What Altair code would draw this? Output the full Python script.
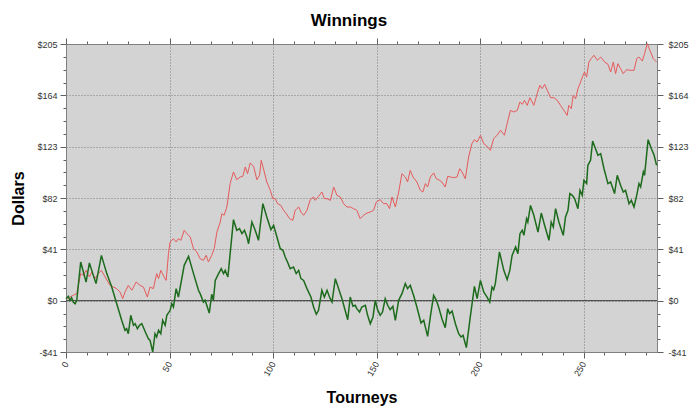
import altair as alt
import pandas as pd

# ---- data ----
red_x = [0, 1.9, 3.5, 5.2, 7.1, 8.4, 9.7, 11.3, 12.4, 14.0, 15.6, 17.1, 18.9, 21.3, 22.9, 24.5,
         26.1, 27.4, 28.5, 30.1, 31.8, 33.9, 35.8, 37.4, 39.3, 40.6, 42.2, 43.8, 44.7, 45.8, 47.4,
         48.4, 49.5, 50.3, 51.9, 53.2, 54.3, 55.5, 57.1, 58.4, 60.0, 61.6, 63.2,
         64.8, 66.4, 67.7, 68.8, 70.4, 71.6, 72.9, 74.5, 75.3, 76.4, 77.7, 79.3, 80.9, 82.5, 84.1,
         85.4, 86.6, 87.7, 89.0, 90.6, 92.2, 93.5, 94.3, 95.8, 97.0, 98.7, 99.9, 101.1, 102.2,
         103.8, 105.1, 106.4, 108.0, 109.6, 110.7, 112.4, 113.5, 114.8, 116.4, 118.0, 119.6,
         120.4, 122.0, 123.6, 124.8, 126.1, 127.7, 129.3, 130.9, 132.5, 134.1, 135.7,
         137.3, 138.9, 140.5, 142.1, 143.7, 145.4, 147.0, 148.6, 149.9, 151.8, 153.4, 155.0,
         156.3, 157.5, 159.1, 160.7, 162.3, 163.9, 165.0, 166.3, 167.6, 169.5, 171.2, 172.4,
         173.6, 174.7, 176.0, 177.6, 178.9, 180.5, 181.6, 183.2, 184.4, 185.7, 187.3, 188.9,
         190.2, 191.3, 192.9, 194.5, 196.1, 197.3, 198.6, 200.2, 201.8, 203.4, 205.0, 206.6,
         208.2,
         209.9, 211.8, 213.1, 214.7, 216.3, 218.0, 219.3, 220.4, 221.5, 222.8, 224.1, 226.0,
         227.6, 228.9, 230.0, 231.2, 232.5, 234.1, 235.7, 237.3, 238.9, 240.5, 242.1, 242.9,
         244.1, 245.0, 246.2, 247.3, 248.3, 249.4, 250.5, 251.5, 252.6, 253.7, 255.0, 256.7,
         258.3, 260.2, 261.8, 263.1, 264.4, 265.5, 266.6, 267.9, 269.2, 270.8, 272.4, 274.4,
         275.7, 276.8, 278.4, 279.5, 280.8, 282.1, 283.7, 285.3]
red_y = [1.6, 2.9, 4.3, 5.6, 21.6, 20.2, 24.2, 18.9, 22.9, 17.6, 21.6, 24.2, 18.9, 12.2, 10.9, 9.6,
         6.9, 1.6, 6.9, 12.2, 8.3, 14.9, 12.2, 10.9, 2.9, 10.9, 9.6, 21.6, 17.6, 24.2, 18.9,
         16.2, 37.5, 46.9, 49.5, 46.9, 49.5, 48.2, 56.2, 53.5, 50.9, 41.5, 38.9,
         33.5, 32.2, 36.2, 30.9, 36.2, 41.5, 54.8, 62.8, 69.5, 68.2, 74.8, 93.5, 102.8, 96.6, 98.8,
         99.3, 106.8, 101.4, 110.0, 107.3, 96.6, 100.1, 112.1, 102.8, 94.8, 88.1, 81.5, 81.5, 77.5,
         76.1, 72.2, 69.5, 65.5, 64.2, 72.2, 74.8, 70.8, 68.2, 72.2, 80.7, 82.8,
         80.1, 83.3, 86.8, 81.5, 81.5, 80.1, 90.8, 84.1, 82.8, 77.5, 74.8,
         74.8, 73.5, 72.2, 65.5, 68.2, 70.0, 70.8, 72.2, 78.8, 80.7, 77.5, 77.5,
         73.5, 82.8, 74.8, 86.8, 101.4, 98.8, 94.8, 104.1, 98.8, 94.8, 88.1, 86.8,
         93.5, 90.8, 98.8, 102.0, 97.4, 96.1, 94.8, 90.8, 99.3, 98.8, 98.2, 98.8,
         105.4, 102.8, 97.4, 114.8, 125.4, 128.6, 126.7, 132.1, 125.4, 123.3, 120.1, 129.4,
         132.1,
         136.1, 132.1, 141.4, 152.0, 150.7, 152.0, 158.7, 156.8, 160.0, 156.0, 162.1, 156.0,
         165.3, 172.0, 169.3, 172.8, 168.0, 162.1, 162.1, 160.0, 156.0, 152.0, 148.0, 156.0,
         153.4, 164.0, 161.3, 169.3, 173.3, 178.6, 182.6, 178.6, 190.6, 193.3, 196.0, 192.0,
         194.6, 190.6, 188.8, 182.6, 190.6, 181.3, 189.3, 185.3, 181.3, 184.5, 184.0, 184.0,
         193.3, 194.6, 191.4, 197.3, 205.3, 199.9, 193.3, 190.6]

green_x = [0, 1.1, 1.9, 2.7, 3.5, 4.4, 5.2, 7.1, 9.7, 11.3, 13.2, 14.5, 17.1, 19.7, 22.1, 24.5,
           26.9, 28.5, 29.3, 30.1, 31.3, 32.6, 33.4, 34.5, 35.5, 36.6, 38.7, 39.8, 40.6, 41.9,
           43.0, 43.8, 44.7, 45.8, 46.7, 47.9, 48.7, 50.3, 51.1, 51.9, 53.2, 54.3, 57.1, 59.2,
           61.6, 64.0,
           64.8, 66.4, 67.2, 69.2, 70.4, 71.2, 72.1, 73.7, 75.0, 76.1, 76.9, 78.2, 80.9, 82.5,
           83.8, 85.0, 86.2, 87.4, 88.2, 89.8, 91.4, 93.0, 95.1, 97.0, 99.0, 100.3, 101.9, 103.5,
           104.8, 105.9, 107.0, 108.3, 109.9, 111.2, 112.4, 113.5, 114.8, 116.4, 118.3, 119.6,
           120.9, 122.0, 123.6, 124.8, 126.1, 127.3, 128.5, 130.1, 131.7, 133.3, 134.4, 136.1,
           137.3, 138.6, 139.7, 140.5, 141.8, 142.9, 144.6, 145.7, 147.0, 148.3, 149.4, 150.5,
           151.8, 152.9, 154.2, 155.4, 156.6, 157.9, 159.1, 160.7, 162.3, 163.9, 165.0, 166.3,
           167.9, 169.5, 171.5, 172.8, 174.7, 176.0, 177.6, 178.9, 180.0, 181.6, 183.2, 184.4,
           185.3, 186.5, 188.1, 189.7, 190.8, 191.8, 193.4, 195.3, 197.3, 198.6, 200.2, 201.8,
           203.4, 204.7, 205.8, 206.6, 207.4, 209.4,
           211.5, 213.1, 214.4, 215.5, 217.2, 218.3, 219.3, 220.4, 221.2, 222.5, 223.1, 224.4,
           226.0, 228.0, 229.6, 231.2, 233.3, 234.4, 235.4, 236.5, 238.1, 240.2, 241.3, 242.5,
           243.4, 244.6, 245.7, 247.3, 248.3, 249.4, 250.2, 251.5, 252.1, 253.4, 254.4, 255.8,
           257.0, 258.3, 259.9, 261.8, 263.1, 265.0, 266.3, 267.9, 269.2, 270.3, 272.0, 273.1,
           274.4, 275.7, 276.8, 277.6, 278.9, 279.5, 281.2, 282.8, 284.1, 285.3]
green_y = [1.6, 3.5, 0.3, 2.4, -1.1, -2.4, 0.3, 30.9, 14.9, 30.1, 20.2, 13.6, 36.2, 21.6, 10.9, -2.4,
           -15.7, -23.7, -22.4, -26.4, -11.7, -19.7, -18.4, -22.4, -19.7, -18.4, -26.4, -30.4, -31.7, -41.0,
           -26.4, -29.0, -23.7, -26.4, -15.7, -19.7, -11.7, -7.7, -2.4, -5.1, 9.6, 2.9, 28.2, 35.4,
           21.6, 8.3,
           5.6, -1.1, 0.3, -9.9, 5.1, 0.3, 16.2, 21.6, 25.6, 21.6, 24.2, 18.9, 64.7, 56.2,
           57.5, 53.5, 56.2, 50.9, 45.5, 62.8, 56.2, 48.2, 77.5, 66.8, 56.7, 60.2, 50.9, 41.5,
           40.2, 34.9, 30.9, 25.6, 26.9, 21.6, 24.2, 17.6, 16.2, 9.6, 2.9, -5.1,
           -10.9, -7.7, 8.3, 2.9, 8.3, 2.9, -1.1, 17.6, 9.6, 1.6, -5.1, -15.2,
           2.9, -4.5, -3.7, -6.4, -9.1, -5.1, -3.7, -11.7, -18.4, -13.0, 0.3, -7.2,
           -11.7, -9.1, 1.6, -3.7, -7.2, -4.5, -15.7, 0.3, 5.6, 13.6, 9.6, 12.2,
           4.3, -5.1, -17.8, -15.7, -28.5, -13.0, 4.3, 0.3, -5.1, -14.4, -21.6, -6.4,
           -10.4, -8.3, -18.4, -26.4, -29.0, -27.7, -37.5, -13.0, 11.4, 1.6, 16.2, 6.9,
           2.9, -1.1, 10.9, 8.8, 13.6, 38.9,
           24.2, 16.8, 24.2, 36.2, 42.9, 37.5, 53.5, 56.2, 52.2, 65.5, 62.8, 76.1,
           68.2, 54.8, 70.0, 60.2, 48.2, 62.8, 58.8, 73.5, 62.8, 52.2, 66.8, 72.2,
           85.5, 84.1, 81.5, 73.5, 88.1, 84.1, 96.1, 93.5, 108.1, 112.1, 127.5, 121.4,
           116.1, 117.4, 105.4, 93.5, 94.8, 85.5, 100.1, 92.1, 86.8, 88.1, 77.5, 80.1,
           74.8, 84.1, 93.5, 90.8, 102.8, 100.1, 128.6, 121.4, 116.1, 108.1]

zero_level = [0]

x_ticks = list(range(0, 281, 10))
y_ticks = [-41 + 10.25 * k for k in range(25)]
x_domain = [0, 285.5]
y_domain = [-41, 205]

red_df = pd.DataFrame({"x": red_x, "y": red_y})
green_df = pd.DataFrame({"x": green_x, "y": green_y})
zero_df = pd.DataFrame({"v": zero_level})

FONT = "Liberation Sans"
x_major = "datum.value % 50 === 0"
y_major = "(datum.value + 41) % 41 === 0"
y_label = ("(datum.value + 41) % 41 === 0 ? (datum.value < 0 ? '-$' + abs(datum.value) : '$' + datum.value) : ''")

common = dict(labelFont=FONT, labelFontSize=9, labelColor="#333333", domainColor="#808080",
              tickColor="#606060", tickSize=6)

x_bottom = alt.Axis(orient="bottom", values=x_ticks, labelExpr=x_major + " ? datum.label : ''",
                    labelAngle=-60, labelPadding=4,
                    tickDash={"condition": {"test": x_major, "value": [10, 0]}, "value": [3, 10]},
                    grid=True, gridColor="#7a7a7a", gridDash=[1, 2],
                    gridOpacity={"condition": {"test": x_major, "value": 1}, "value": 0},
                    title="Tourneys", titleFont=FONT, titleFontSize=16, titleFontWeight="bold",
                    titleColor="black", titleX=295.5, titleY=50, titleBaseline="alphabetic",
                    titleAlign="center", **common)
x_top = alt.Axis(orient="top", values=x_ticks, labels=False, grid=False, title="",
                 tickDash={"condition": {"test": x_major, "value": [10, 0]}, "value": [3, 10]},
                 **common)
y_left = alt.Axis(orient="left", values=y_ticks, labelExpr=y_label, labelPadding=3,
                  tickDash={"condition": {"test": y_major, "value": [10, 0]}, "value": [3, 10]},
                  grid=True, gridColor="#7a7a7a", gridDash=[1, 2],
                  gridOpacity={"condition": {"test": y_major, "value": 1}, "value": 0},
                  title="Dollars", titleFont=FONT, titleFontSize=16, titleFontWeight="bold",
                  titleColor="black", titleX=-40, titleY=154, titleAngle=-90,
                  titleBaseline="bottom", titleAlign="center", **common)
y_right = alt.Axis(orient="right", values=y_ticks, labelExpr=y_label, labelPadding=5,
                   tickDash={"condition": {"test": y_major, "value": [10, 0]}, "value": [3, 10]},
                   grid=False, title="", **common)

xs = alt.Scale(domain=x_domain, nice=False, zero=False)
ys = alt.Scale(domain=y_domain, nice=False, zero=False)

zero = alt.Chart(zero_df).mark_rule(color="#3a3a3a", strokeWidth=1).encode(
    y=alt.Y("v:Q", scale=ys, axis=None))

red = alt.Chart(red_df).mark_line(color="#e65a5a", strokeWidth=1).encode(
    x=alt.X("x:Q", scale=xs, axis=x_bottom),
    y=alt.Y("y:Q", scale=ys, axis=y_left))

green = alt.Chart(green_df).mark_line(color="#1d6b1d", strokeWidth=1.5).encode(
    x=alt.X("x:Q", scale=xs, axis=x_top),
    y=alt.Y("y:Q", scale=ys, axis=y_right))

chart = alt.layer(zero, red, green).resolve_axis(x="independent", y="independent").properties(
    width=591, height=308,
    padding={"left": 58, "top": 36, "right": 35, "bottom": 57},
    autosize=alt.AutoSizeParams(type="none"),
    background="white",
    title=alt.TitleParams("Winnings", font=FONT, fontSize=17, fontWeight="bold", color="black",
                          anchor="middle", frame="bounds", offset=8),
).configure_view(fill="#d3d3d3", stroke="#808080")

chart.save("out.html", embed_options={"renderer": "svg", "actions": False})
